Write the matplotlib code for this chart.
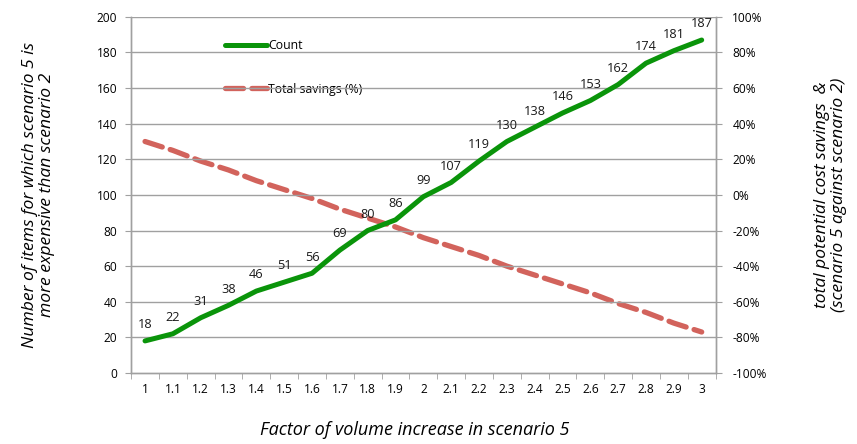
import matplotlib
matplotlib.use("Agg")
import matplotlib.pyplot as plt
import numpy as np

plt.rcParams['font.family'] = ['Open Sans', 'DejaVu Sans']
plt.rcParams['lines.scale_dashes'] = False

factors = ["1", "1.1", "1.2", "1.3", "1.4", "1.5", "1.6", "1.7", "1.8", "1.9", "2",
           "2.1", "2.2", "2.3", "2.4", "2.5", "2.6", "2.7", "2.8", "2.9", "3"]
count = [18, 22, 31, 38, 46, 51, 56, 69, 80, 86, 99,
         107, 119, 130, 138, 146, 153, 162, 174, 181, 187]
savings_pct = [30, 25, 19, 14, 8, 3, -2, -8, -13, -18, -24,
               -29, -34, -40, -45, -50, -55, -61, -66, -72, -77]

left_ticks = list(range(0, 201, 20))
right_ticks = list(range(-100, 101, 20))

green = '#0a940a'
red = '#d2635c'
grid_col = '#a0a0a0'

fig = plt.figure(figsize=(8.57, 4.44), dpi=100)
ax = fig.add_axes([0.153, 0.160, 0.682, 0.802])
ax2 = ax.twinx()

x = np.arange(len(factors))

ax.set_xlim(-0.5, len(factors) - 0.5)
ax.set_ylim(0, 200)
ax2.set_ylim(-100, 100)

for y in left_ticks[1:]:
    ax.axhline(y, color=grid_col, lw=1.0, zorder=0)

line_count, = ax.plot(x, count, color=green, lw=3.6, solid_capstyle='round',
                      solid_joinstyle='round', zorder=3, label='Count')
for xi, v in zip(x, count):
    ax.annotate(str(v), (xi, v), xytext=(0, 7), textcoords='offset points',
                ha='center', va='bottom', fontsize=9.2, color='#1a1a1a', zorder=4)

line_sav, = ax2.plot(x, savings_pct, color=red, lw=3.8, dashes=(13, 6),
                     dash_capstyle='round', zorder=3, label='Total savings (%)')

ax.set_xticks(x)
ax.set_xticklabels(factors, fontsize=8.6)
ax.set_xticks(np.arange(-0.5, len(factors), 1.0), minor=True)
ax.tick_params(axis='x', which='major', length=0, pad=7)
ax.tick_params(axis='x', which='minor', length=4, color=grid_col, direction='out')

ax.set_yticks(left_ticks)
ax.set_yticklabels([str(t) for t in left_ticks], fontsize=8.6)
ax.tick_params(axis='y', length=4, color=grid_col, direction='out', pad=6)

ax2.set_yticks(right_ticks)
ax2.set_yticklabels([f"{t}%" for t in right_ticks], fontsize=8.6)
ax2.tick_params(axis='y', length=4, color=grid_col, direction='out', pad=8)

for a in (ax, ax2):
    for side in ('left', 'right', 'bottom'):
        a.spines[side].set_color(grid_col)
        a.spines[side].set_linewidth(1.0)
    a.spines['top'].set_visible(False)

ax.set_xlabel("Factor of volume increase in scenario 5", fontsize=13, style='italic',
              labelpad=17)
ax.xaxis.set_label_coords(0.486, -0.135)
ax.set_ylabel("Number of items for which scenario 5 is\nmore expensive than scenario 2",
              fontsize=12.6, style='italic', labelpad=30, linespacing=1.1)
ax2.set_ylabel("total potential cost savings  &\n(scenario 5 against scenario 2)",
               fontsize=12.6, style='italic', labelpad=34, linespacing=1.1)

leg = ax2.legend([line_count, line_sav], ['Count', 'Total savings (%)'],
                 loc='upper left', bbox_to_anchor=(0.14, 0.972), frameon=True,
                 fontsize=8.8, handlelength=3.4, handletextpad=0.1,
                 labelspacing=2.5, borderpad=0.5)
leg.get_frame().set_facecolor('white')
leg.get_frame().set_edgecolor('none')
leg.get_frame().set_alpha(1.0)

ax.set_zorder(ax2.get_zorder() + 1)
ax.patch.set_visible(False)
ax2.set_zorder(0)
leg.set_zorder(10)

fig.savefig("out.png", dpi=100)
